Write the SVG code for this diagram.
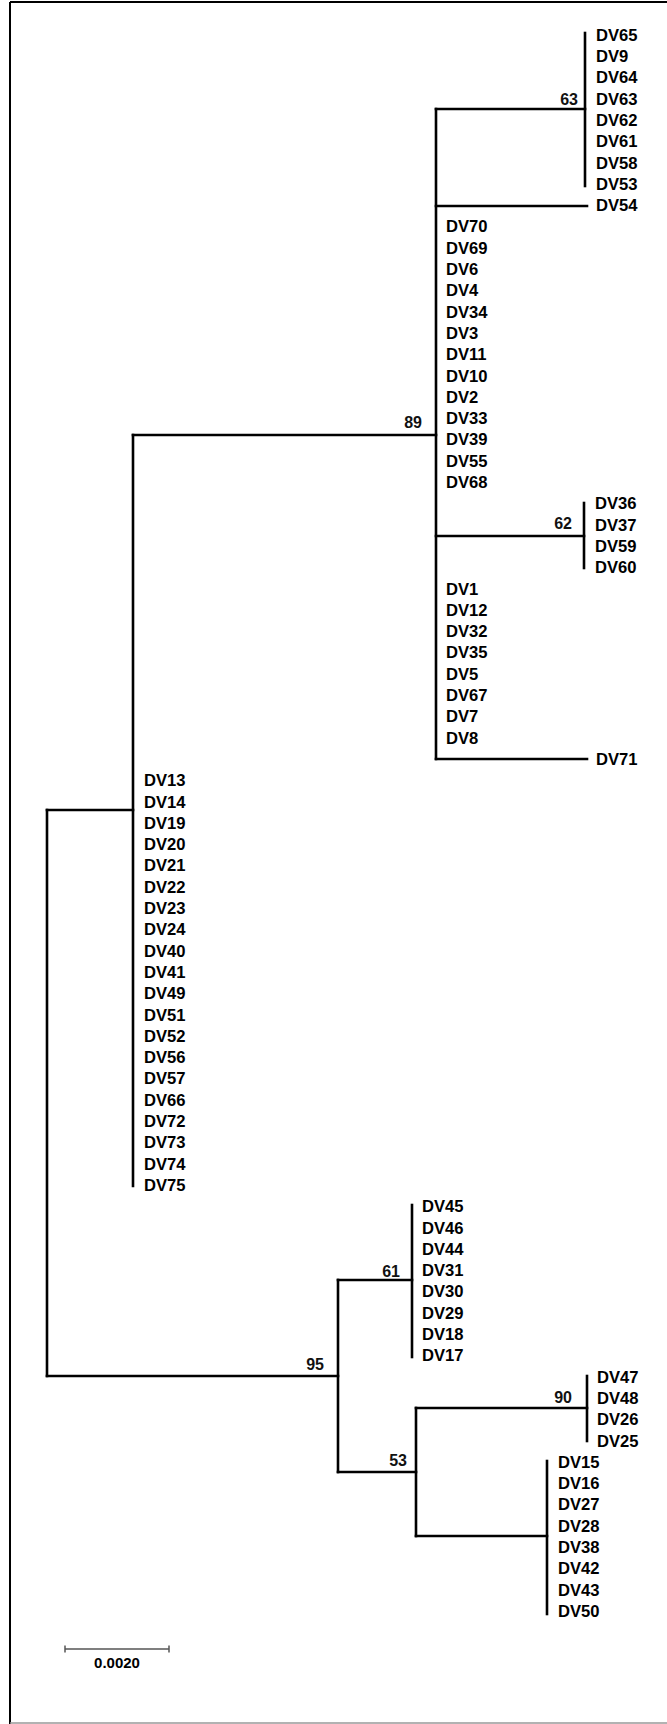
<svg xmlns="http://www.w3.org/2000/svg" width="667" height="1724" viewBox="0 0 667 1724">
<style>
.leaf{font-family:"Liberation Sans",Arial,sans-serif;font-weight:bold;font-size:16.6px;fill:#000}
.sup{font-family:"Liberation Sans",Arial,sans-serif;font-weight:bold;font-size:16px;fill:#111;text-anchor:end}
.br{stroke:#000;stroke-width:2.6;fill:none;stroke-linecap:square}
.scale{font-family:"Liberation Sans",Arial,sans-serif;font-weight:bold;font-size:15px;fill:#000;text-anchor:middle}
</style>
<rect x="0" y="0" width="667" height="1724" fill="#fff"/>
<g id="frame">
<line x1="10" y1="2" x2="667" y2="2" stroke="#000" stroke-width="2"/>
<line x1="10" y1="2" x2="10" y2="1724" stroke="#000" stroke-width="2"/>
<line x1="10" y1="1723" x2="667" y2="1723" stroke="#999" stroke-width="1.5"/>
</g>
<g id="connectors" class="br">
<path d="M585 33V186"/>
<path d="M436 109H585"/>
<path d="M436 206H587"/>
<path d="M436 109V759"/>
<path d="M584 503V568"/>
<path d="M436 536H584"/>
<path d="M436 759H587"/>
<path d="M133 435H436"/>
<path d="M133 435V1186"/>
<path d="M47 810H133"/>
<path d="M47 810V1376"/>
<path d="M47 1376H338"/>
<path d="M338 1280V1472"/>
<path d="M338 1280H412"/>
<path d="M412 1205V1357"/>
<path d="M338 1472H416"/>
<path d="M416 1408V1536"/>
<path d="M416 1408H587"/>
<path d="M587 1376V1441"/>
<path d="M416 1536H547"/>
<path d="M547 1461V1614"/>
</g>
<g id="support">
<text class="sup" x="578" y="105">63</text>
<text class="sup" x="422" y="428">89</text>
<text class="sup" x="572" y="529">62</text>
<text class="sup" x="400" y="1277">61</text>
<text class="sup" x="324" y="1370">95</text>
<text class="sup" x="572" y="1403">90</text>
<text class="sup" x="407" y="1466">53</text>
</g>
<g id="clade63" class="leaf">
<text x="596" y="40.7">DV65</text>
<text x="596" y="62.0">DV9</text>
<text x="596" y="83.3">DV64</text>
<text x="596" y="104.6">DV63</text>
<text x="596" y="125.9">DV62</text>
<text x="596" y="147.2">DV61</text>
<text x="596" y="168.5">DV58</text>
<text x="596" y="189.8">DV53</text>
</g>
<g id="leafDV54" class="leaf"><text x="596" y="211.1">DV54</text></g>
<g id="group89a" class="leaf">
<text x="446" y="232.4">DV70</text>
<text x="446" y="253.7">DV69</text>
<text x="446" y="275.0">DV6</text>
<text x="446" y="296.3">DV4</text>
<text x="446" y="317.6">DV34</text>
<text x="446" y="338.9">DV3</text>
<text x="446" y="360.2">DV11</text>
<text x="446" y="381.5">DV10</text>
<text x="446" y="402.8">DV2</text>
<text x="446" y="424.1">DV33</text>
<text x="446" y="445.4">DV39</text>
<text x="446" y="466.7">DV55</text>
<text x="446" y="488.0">DV68</text>
</g>
<g id="clade62" class="leaf">
<text x="595" y="509.3">DV36</text>
<text x="595" y="530.6">DV37</text>
<text x="595" y="551.9">DV59</text>
<text x="595" y="573.2">DV60</text>
</g>
<g id="group89b" class="leaf">
<text x="446" y="594.5">DV1</text>
<text x="446" y="615.8">DV12</text>
<text x="446" y="637.1">DV32</text>
<text x="446" y="658.4">DV35</text>
<text x="446" y="679.7">DV5</text>
<text x="446" y="701.0">DV67</text>
<text x="446" y="722.3">DV7</text>
<text x="446" y="743.6">DV8</text>
</g>
<g id="leafDV71" class="leaf"><text x="596" y="764.9">DV71</text></g>
<g id="groupMain" class="leaf">
<text x="144" y="786.2">DV13</text>
<text x="144" y="807.5">DV14</text>
<text x="144" y="828.8">DV19</text>
<text x="144" y="850.1">DV20</text>
<text x="144" y="871.4">DV21</text>
<text x="144" y="892.7">DV22</text>
<text x="144" y="914.0">DV23</text>
<text x="144" y="935.3">DV24</text>
<text x="144" y="956.6">DV40</text>
<text x="144" y="977.9">DV41</text>
<text x="144" y="999.2">DV49</text>
<text x="144" y="1020.5">DV51</text>
<text x="144" y="1041.8">DV52</text>
<text x="144" y="1063.1">DV56</text>
<text x="144" y="1084.4">DV57</text>
<text x="144" y="1105.7">DV66</text>
<text x="144" y="1127.0">DV72</text>
<text x="144" y="1148.3">DV73</text>
<text x="144" y="1169.6">DV74</text>
<text x="144" y="1190.9">DV75</text>
</g>
<g id="clade61" class="leaf">
<text x="422" y="1212.2">DV45</text>
<text x="422" y="1233.5">DV46</text>
<text x="422" y="1254.8">DV44</text>
<text x="422" y="1276.1">DV31</text>
<text x="422" y="1297.4">DV30</text>
<text x="422" y="1318.7">DV29</text>
<text x="422" y="1340.0">DV18</text>
<text x="422" y="1361.3">DV17</text>
</g>
<g id="clade90" class="leaf">
<text x="597" y="1382.6">DV47</text>
<text x="597" y="1403.9">DV48</text>
<text x="597" y="1425.2">DV26</text>
<text x="597" y="1446.5">DV25</text>
</g>
<g id="cladeBottom" class="leaf">
<text x="558" y="1467.8">DV15</text>
<text x="558" y="1489.1">DV16</text>
<text x="558" y="1510.4">DV27</text>
<text x="558" y="1531.7">DV28</text>
<text x="558" y="1553.0">DV38</text>
<text x="558" y="1574.3">DV42</text>
<text x="558" y="1595.6">DV43</text>
<text x="558" y="1616.9">DV50</text>
</g>
<g id="scalebar">
<path d="M65 1649H169M65 1645.5V1652.5M169 1645.5V1652.5" stroke="#555" stroke-width="1.5" fill="none"/>
<text class="scale" x="117" y="1668">0.0020</text>
</g>
</svg>
